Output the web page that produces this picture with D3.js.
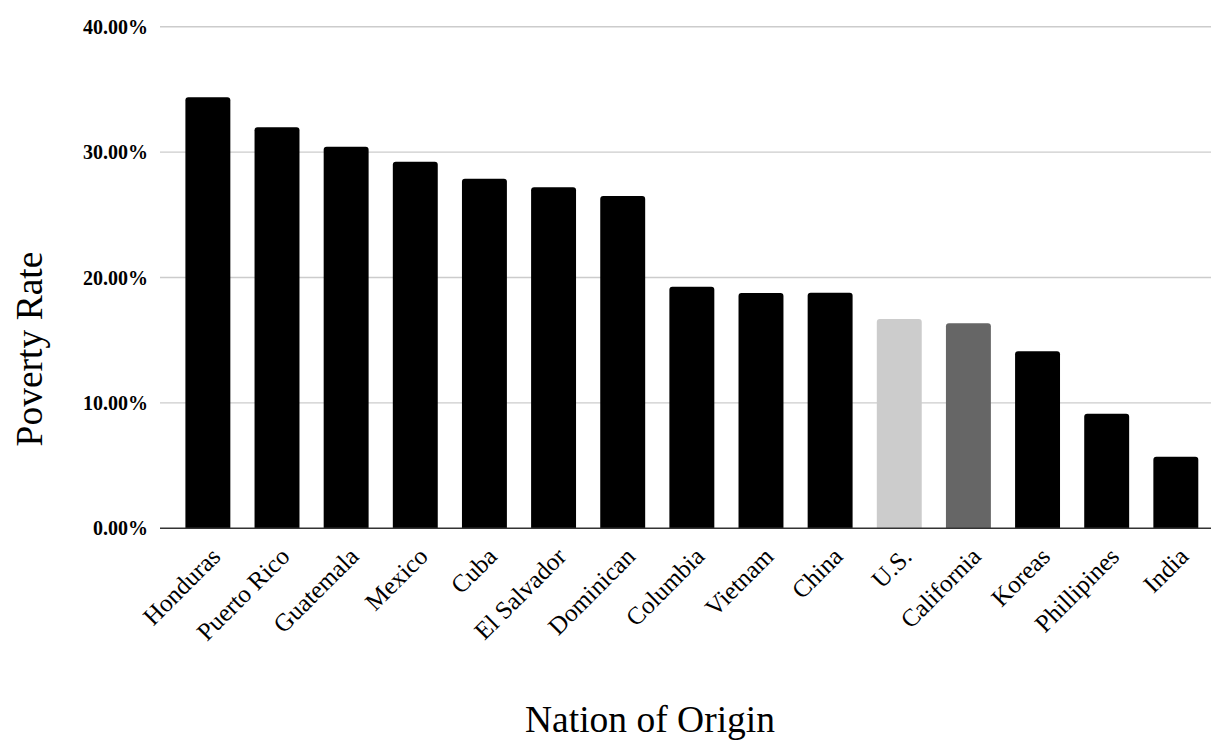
<!DOCTYPE html>
<html>
<head>
<meta charset="utf-8">
<script src="https://cdn.jsdelivr.net/npm/d3@7"></script>
<style>
  html, body { margin: 0; padding: 0; background: #ffffff; }
  svg { display: block; }
  text { font-family: "Liberation Serif", "Times New Roman", serif; fill: #000; }
</style>
</head>
<body>
<svg id="chart" width="1211" height="741"></svg>
<script>
// Poverty rate by nation of origin
const categories = ["Honduras", "Puerto Rico", "Guatemala", "Mexico", "Cuba", "El Salvador",
  "Dominican", "Columbia", "Vietnam", "China", "U.S.", "California", "Koreas", "Phillipines", "India"];
const rates = [0.3437, 0.3198, 0.3043, 0.2923, 0.2788, 0.2719, 0.2650, 0.1927, 0.1877,
  0.1878, 0.1669, 0.1635, 0.1411, 0.0914, 0.0571];
const yTicks = [0, 0.1, 0.2, 0.3, 0.4];
// bars that are highlighted for comparison
const barColors = { "U.S.": "#cccccc", "California": "#666666" };

const svg = d3.select("#chart");
const W = 1211;

const x = d3.scaleBand()
  .domain(categories)
  .range([173.3, 1210.4])
  .paddingInner(0.35)
  .paddingOuter(0.175);

const y = d3.scaleLinear()
  .domain([0, 0.4])
  .range([528.3, 26.7]);

const gridLeft = 160, gridRight = W;

// horizontal gridlines
svg.append("g")
  .selectAll("line")
  .data(yTicks.filter(d => d > 0))
  .join("line")
  .attr("x1", gridLeft).attr("x2", gridRight)
  .attr("y1", d => y(d)).attr("y2", d => y(d))
  .attr("stroke", "#cccccc")
  .attr("stroke-width", 1.4);

// y tick labels
const fmt = d3.format(".2%");
svg.append("g")
  .selectAll("text")
  .data(yTicks)
  .join("text")
  .attr("x", 148)
  .attr("y", d => y(d))
  .attr("dy", "0.35em")
  .attr("text-anchor", "end")
  .style("font-size", "20px")
  .style("font-weight", "bold")
  .text(d => fmt(d));

// bars with rounded top corners
const r = 3;
function barPath(d, i) {
  const x0 = x(categories[i]);
  const w = x.bandwidth();
  const y0 = y(0);
  const y1 = y(d);
  return `M${x0},${y0}V${y1 + r}Q${x0},${y1} ${x0 + r},${y1}H${x0 + w - r}Q${x0 + w},${y1} ${x0 + w},${y1 + r}V${y0}Z`;
}
svg.append("g")
  .selectAll("path")
  .data(rates)
  .join("path")
  .attr("d", barPath)
  .attr("fill", (d, i) => barColors[categories[i]] || "#000000");

// baseline
svg.append("line")
  .attr("x1", gridLeft).attr("x2", gridRight)
  .attr("y1", y(0)).attr("y2", y(0))
  .attr("stroke", "#333333")
  .attr("stroke-width", 1.6);

// rotated category labels
svg.append("g")
  .selectAll("text")
  .data(categories)
  .join("text")
  .attr("transform", d => `translate(${x(d) + x.bandwidth() / 2 + 14},558) rotate(-45)`)
  .attr("text-anchor", "end")
  .style("font-size", "25px")
  .text(d => d);

// axis titles
svg.append("text")
  .attr("transform", "translate(42,349) rotate(-90)")
  .attr("text-anchor", "middle")
  .style("font-size", "37.5px")
  .text("Poverty Rate");

svg.append("text")
  .attr("x", 650)
  .attr("y", 732)
  .attr("text-anchor", "middle")
  .style("font-size", "37.5px")
  .text("Nation of Origin");
</script>
</body>
</html>
